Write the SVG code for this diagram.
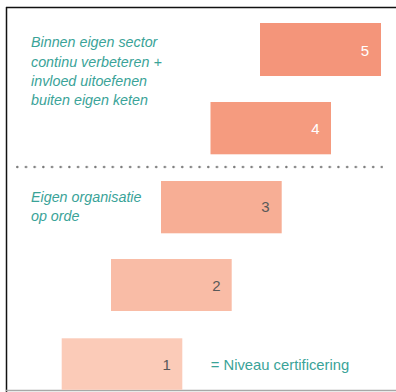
<svg xmlns="http://www.w3.org/2000/svg" width="396" height="392" viewBox="0 0 396 392">
  <style>
    .lbl { font-family: "Liberation Sans", Arial, sans-serif; font-style: italic; font-size: 14.3px; fill: #3aa398; }
    .note { font-family: "Liberation Sans", Arial, sans-serif; font-size: 14.8px; fill: #3aa398; }
    .num { font-family: "Liberation Sans", Arial, sans-serif; font-size: 15px; text-anchor: middle; }
    .w { fill: #ffffff; }
    .d { fill: #595959; }
  </style>
  <defs>
    <pattern id="dots" x="16" y="0" width="8.68" height="392" patternUnits="userSpaceOnUse">
      <circle cx="1.3" cy="167" r="1.25" fill="#7a7a7a"/>
    </pattern>
  </defs>
  <rect x="0" y="0" width="396" height="392" fill="#ffffff"/>
  <g id="frame">
    <line x1="6" y1="7.5" x2="396" y2="7.5" stroke="#111" stroke-width="1.5"/>
    <line x1="6.5" y1="7" x2="6.5" y2="392" stroke="#111" stroke-width="1.5"/>
    <line x1="6" y1="390.5" x2="396" y2="390.5" stroke="#a8a8a8" stroke-width="1.5"/>
  </g>
  <g id="separator">
    <rect x="14" y="164" width="369" height="6" fill="url(#dots)"/>
  </g>
  <g id="labels">
    <text class="lbl" x="31" y="47.3">Binnen eigen sector</text>
    <text class="lbl" x="31" y="66.5">continu verbeteren +</text>
    <text class="lbl" x="31" y="85.7">invloed uitoefenen</text>
    <text class="lbl" x="31" y="104.9">buiten eigen keten</text>
    <text class="lbl" x="31" y="201.7">Eigen organisatie</text>
    <text class="lbl" x="31" y="221">op orde</text>
  </g>
  <g id="level5">
    <rect x="260" y="23" width="121" height="53" fill="#f4957a"/>
    <text class="num w" x="365" y="55.5">5</text>
  </g>
  <g id="level4">
    <rect x="210.5" y="102" width="120.5" height="52.3" fill="#f59b7f"/>
    <text class="num w" x="315.5" y="134">4</text>
  </g>
  <g id="level3">
    <rect x="161" y="181" width="120.7" height="52.3" fill="#f7ae95"/>
    <text class="num d" x="265.5" y="212.3">3</text>
  </g>
  <g id="level2">
    <rect x="111" y="259" width="120.7" height="52" fill="#f9bca6"/>
    <text class="num d" x="216.5" y="290.7">2</text>
  </g>
  <g id="level1">
    <rect x="61.7" y="338.3" width="120.6" height="51.5" fill="#fbcbb8"/>
    <text class="num d" x="166.7" y="370">1</text>
  </g>
  <g id="connectors"></g>
  <g id="legend">
    <text class="note" x="210.7" y="370">= Niveau certificering</text>
  </g>
</svg>
